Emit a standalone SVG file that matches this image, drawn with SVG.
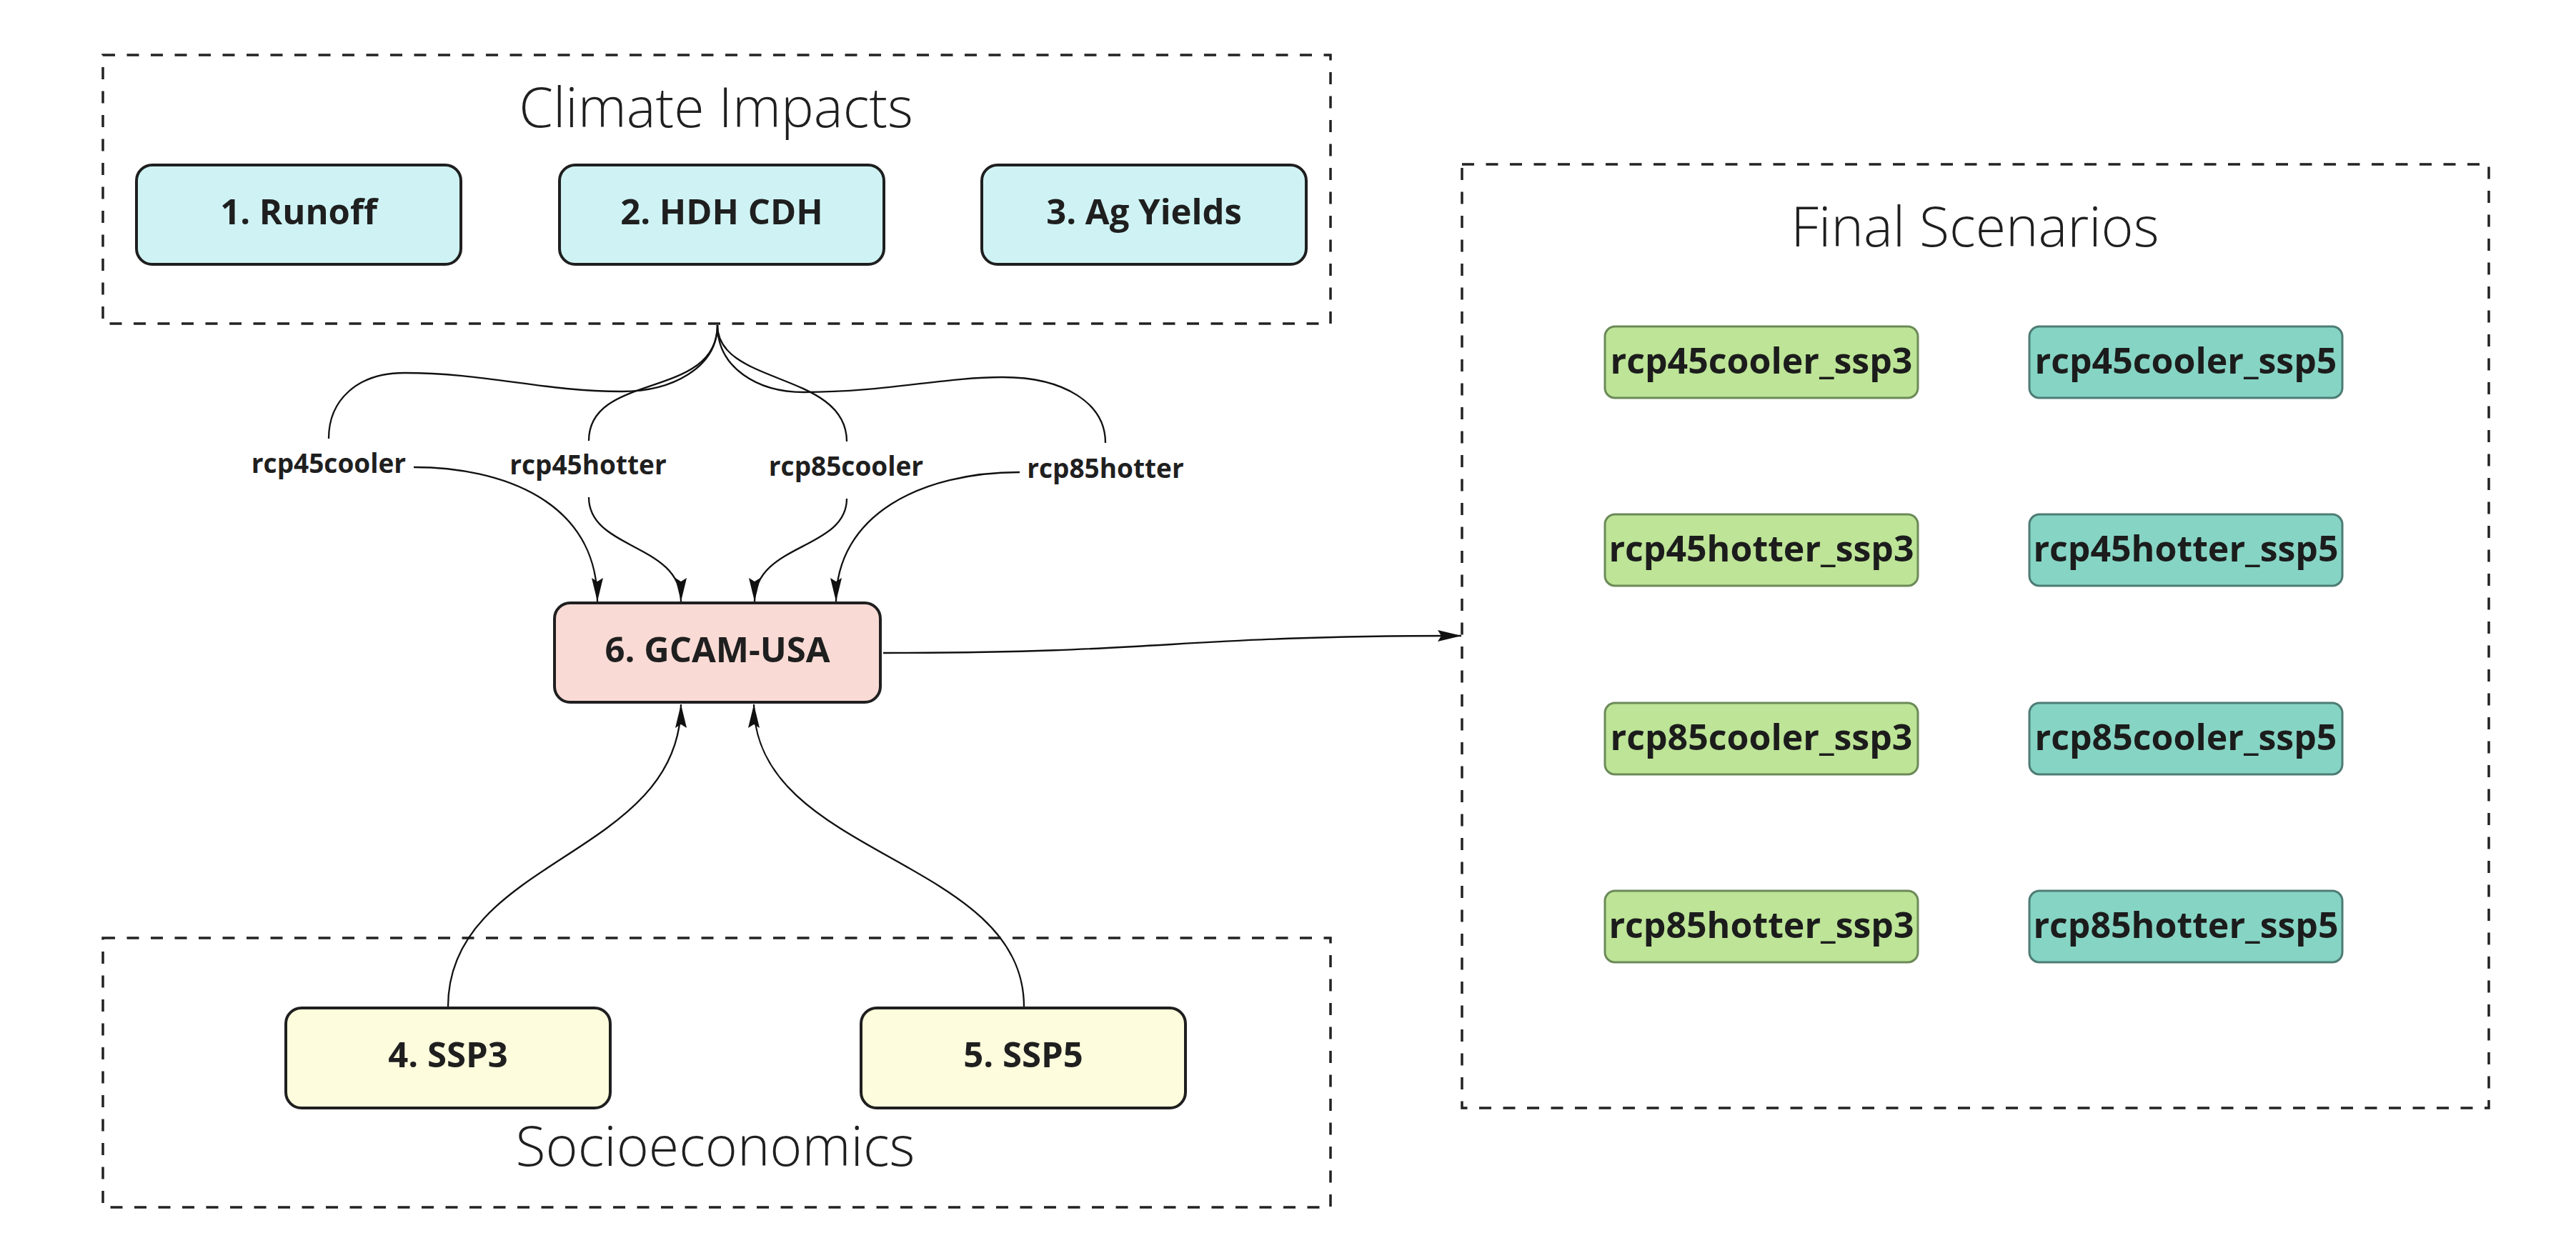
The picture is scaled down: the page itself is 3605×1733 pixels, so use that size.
<svg xmlns="http://www.w3.org/2000/svg" width="3605" height="1733" viewBox="0 0 3605 1733">
<style>
.bg{fill:#ffffff}
.grp{fill:none;stroke:#222222;stroke-width:3.5;stroke-dasharray:17 16.5}
.title{font-family:"Open Sans","Liberation Sans",sans-serif;font-weight:300;font-size:77px;fill:#1f1f1f;text-anchor:middle}
.box{stroke:#1f1f1f;stroke-width:4}
.ci{fill:#cff3f4}
.gc{fill:#fadad5}
.ss{fill:#fdfcdc}
.g3{fill:#bde497;stroke:#6c8a58;stroke-width:3}
.g5{fill:#86d4c4;stroke:#4d7c74;stroke-width:3}
.lbl{font-family:"Open Sans","Liberation Sans",sans-serif;font-weight:700;font-size:49px;fill:#1f1f1f;text-anchor:middle}
.slbl{font-family:"Open Sans","Liberation Sans",sans-serif;font-weight:700;font-size:50px;fill:#1c1c1c;text-anchor:middle}
.elbl{font-family:"Open Sans","Liberation Sans",sans-serif;font-weight:700;font-size:37px;fill:#1f1f1f;text-anchor:middle}
.edge{fill:none;stroke:#111111;stroke-width:2.3}
.arr{marker-end:url(#ah)}
</style>
<defs>
<marker id="ah" markerUnits="userSpaceOnUse" markerWidth="36" markerHeight="18" refX="33" refY="8" orient="auto">
<path d="M0,0 L33,8 L0,16 L5,8 Z" fill="#111111"/>
</marker>
</defs>
<rect class="bg" x="0" y="0" width="3605" height="1733"/>

<g id="climate-impacts">
<rect class="grp" x="144" y="77" width="1718" height="376"/>
<text class="title" x="1002" y="178">Climate Impacts</text>
</g>
<g id="socioeconomics">
<rect class="grp" x="144" y="1313" width="1718" height="377"/>
<text class="title" x="1001" y="1632">Socioeconomics</text>
</g>
<g id="final-scenarios">
<rect class="grp" x="2046" y="230" width="1437" height="1321"/>
<text class="title" x="2764" y="345">Final Scenarios</text>
</g>

<g id="connectors">
<path class="edge" d="M1004,455 C1004,515 940,548 870,548 C760,548 680,522 566,522 C500,522 460,560 460,614"/>
<path class="edge" d="M1004,455 C1004,560 824,520 824,617"/>
<path class="edge" d="M1004,455 C1004,540 1185,520 1185,618"/>
<path class="edge" d="M1004,455 C1004,515 1060,549 1125,549 C1240,549 1320,528 1403,528 C1490,528 1547,565 1547,620"/>
<path class="edge arr" d="M579,654 C700,654 836,700 836,842"/>
<path class="edge arr" d="M824,696 C824,770 953,760 953,842"/>
<path class="edge arr" d="M1185,698 C1185,770 1056,760 1056,842"/>
<path class="edge arr" d="M1427,661 C1290,661 1170,720 1170,842"/>
<path class="edge arr" d="M627,1409 C627,1200 953,1200 953,986"/>
<path class="edge arr" d="M1433,1409 C1433,1200 1055,1200 1055,986"/>
<path class="edge arr" d="M1236,914 C1640,914 1640,890 2045,890"/>
</g>

<g id="edge-labels">
<text class="elbl" x="460" y="662">rcp45cooler</text>
<text class="elbl" x="823" y="664">rcp45hotter</text>
<text class="elbl" x="1184" y="666">rcp85cooler</text>
<text class="elbl" x="1547" y="669">rcp85hotter</text>
</g>

<g id="node-runoff">
<rect class="box ci" x="191" y="231" width="454" height="139" rx="22"/>
<text class="lbl" x="418" y="314">1. Runoff</text>
</g>
<g id="node-hdh-cdh">
<rect class="box ci" x="783" y="231" width="454" height="139" rx="22"/>
<text class="lbl" x="1010" y="314">2. HDH CDH</text>
</g>
<g id="node-ag-yields">
<rect class="box ci" x="1374" y="231" width="454" height="139" rx="22"/>
<text class="lbl" x="1601" y="314">3. Ag Yields</text>
</g>
<g id="node-gcam-usa">
<rect class="box gc" x="776" y="844" width="456" height="139" rx="22"/>
<text class="lbl" x="1004" y="927">6. GCAM-USA</text>
</g>
<g id="node-ssp3">
<rect class="box ss" x="400" y="1411" width="454" height="140" rx="22"/>
<text class="lbl" x="627" y="1494">4. SSP3</text>
</g>
<g id="node-ssp5">
<rect class="box ss" x="1205" y="1411" width="454" height="140" rx="22"/>
<text class="lbl" x="1432" y="1494">5. SSP5</text>
</g>

<g id="node-rcp45cooler-ssp3"><rect class="g3" x="2246" y="457" width="438" height="100" rx="14"/><text class="slbl" x="2465" y="523">rcp45cooler_ssp3</text></g>
<g id="node-rcp45hotter-ssp3"><rect class="g3" x="2246" y="720" width="438" height="100" rx="14"/><text class="slbl" x="2465" y="786">rcp45hotter_ssp3</text></g>
<g id="node-rcp85cooler-ssp3"><rect class="g3" x="2246" y="984" width="438" height="100" rx="14"/><text class="slbl" x="2465" y="1050">rcp85cooler_ssp3</text></g>
<g id="node-rcp85hotter-ssp3"><rect class="g3" x="2246" y="1247" width="438" height="100" rx="14"/><text class="slbl" x="2465" y="1313">rcp85hotter_ssp3</text></g>
<g id="node-rcp45cooler-ssp5"><rect class="g5" x="2840" y="457" width="438" height="100" rx="14"/><text class="slbl" x="3059" y="523">rcp45cooler_ssp5</text></g>
<g id="node-rcp45hotter-ssp5"><rect class="g5" x="2840" y="720" width="438" height="100" rx="14"/><text class="slbl" x="3059" y="786">rcp45hotter_ssp5</text></g>
<g id="node-rcp85cooler-ssp5"><rect class="g5" x="2840" y="984" width="438" height="100" rx="14"/><text class="slbl" x="3059" y="1050">rcp85cooler_ssp5</text></g>
<g id="node-rcp85hotter-ssp5"><rect class="g5" x="2840" y="1247" width="438" height="100" rx="14"/><text class="slbl" x="3059" y="1313">rcp85hotter_ssp5</text></g>
</svg>
